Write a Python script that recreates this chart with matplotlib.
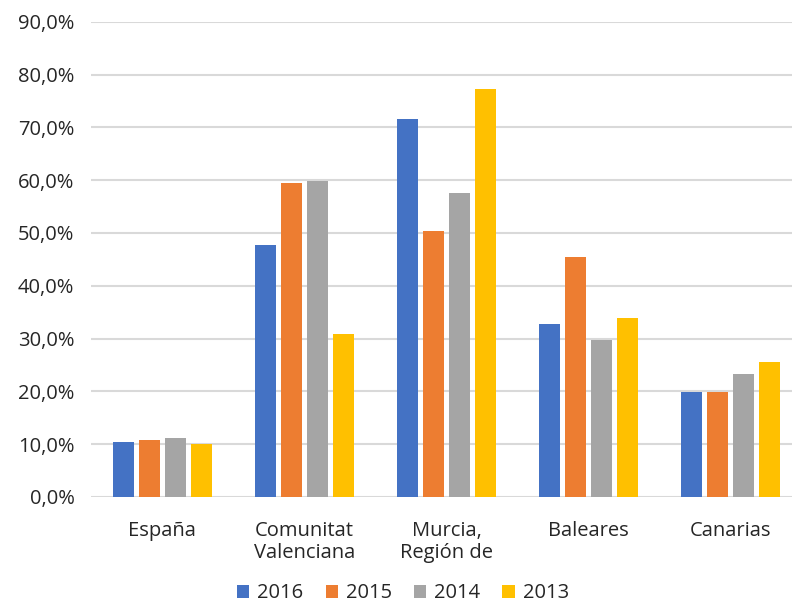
import numpy as np
import matplotlib.pyplot as plt
from matplotlib.ticker import FuncFormatter

plt.rcParams['font.family'] = ['Open Sans', 'DejaVu Sans']

regiones = ['España', 'Comunitat\nValenciana', 'Murcia,\nRegión de', 'Baleares', 'Canarias']
years = ['2016', '2015', '2014', '2013']
v2016 = [10.4, 47.7, 71.6, 32.8, 19.9]
v2015 = [10.8, 59.5, 50.4, 45.5, 19.9]
v2014 = [11.2, 59.8, 57.6, 29.7, 23.3]
v2013 = [10.0, 30.9, 77.3, 33.9, 25.6]
colores = ['#4472C4', '#ED7D31', '#A5A5A5', '#FFC000']

series = [v2016, v2015, v2014, v2013]

fig = plt.figure(figsize=(7.92, 6.06), dpi=100)
ax = fig.add_axes([0.115, 0.18, 0.885, 0.784])

x = np.arange(len(regiones))
w = 0.148
step = 0.183
for i, (vals, c, lab) in enumerate(zip(series, colores, years)):
    ax.bar(x + (i - 1.5) * step, np.array(vals) / 100, width=w, color=c, label=lab, zorder=3)

ax.set_xlim(-0.5, 4.43)
ax.set_ylim(0, 0.9)
ax.set_yticks(np.arange(0, 0.91, 0.1))
ax.yaxis.set_major_formatter(FuncFormatter(lambda v, p: f'{v*100:.1f}%'.replace('.', ',')))
ax.set_xticks(x)
ax.set_xticklabels(regiones, linespacing=1.15)
ax.grid(axis='y', color='#d9d9d9', linewidth=1.5, zorder=0)
for s in ax.spines.values():
    s.set_visible(False)
ax.tick_params(axis='both', length=0, labelsize=14.5, labelcolor='#262626')
ax.tick_params(axis='x', pad=17)
ax.tick_params(axis='y', pad=12)

ax.legend(loc='center', bbox_to_anchor=(0.445, -0.203), ncol=4, frameon=False,
          fontsize=14.5, handlelength=0.6, handleheight=0.6, handletextpad=0.4,
          columnspacing=1.1, labelcolor='#262626', borderpad=0.2)

fig.savefig('out.png', dpi=100)
